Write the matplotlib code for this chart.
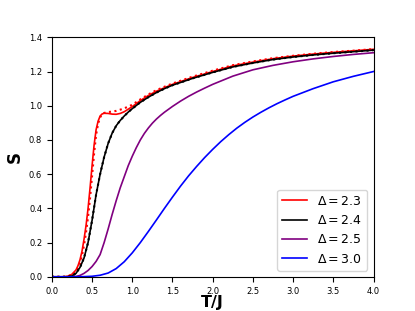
import numpy as np
import matplotlib
matplotlib.use("Agg")
from matplotlib import pyplot as plt

# entropy vs temperature
T_red = [0.0, 0.15, 0.2, 0.25, 0.3, 0.325, 0.35, 0.375, 0.4, 0.425, 0.45, 0.475, 0.5, 0.525,
         0.55, 0.575, 0.6, 0.625, 0.65, 0.7, 0.75, 0.8, 0.85, 0.9, 0.95, 1.0, 1.1, 1.2, 1.3,
         1.4, 1.5, 1.75, 2.0, 2.25, 2.5, 2.75, 3.0, 3.25, 3.5, 3.75, 4.0]
S_red = [0.0, 0.0, 0.004, 0.015, 0.04, 0.065, 0.10, 0.15, 0.22, 0.30, 0.40, 0.52, 0.65, 0.77,
         0.86, 0.91, 0.94, 0.952, 0.956, 0.955, 0.951, 0.95, 0.955, 0.965, 0.98, 0.995, 1.03,
         1.06, 1.085, 1.105, 1.125, 1.165, 1.20, 1.233, 1.255, 1.275, 1.29, 1.302, 1.312,
         1.321, 1.33]

T_red_dot = [0.0, 0.15, 0.2, 0.25, 0.3, 0.325, 0.35, 0.375, 0.4, 0.425, 0.45, 0.475, 0.5,
             0.525, 0.55, 0.575, 0.6, 0.625, 0.65, 0.7, 0.75, 0.8, 0.85, 0.9, 0.95, 1.0, 1.1,
             1.2, 1.3, 1.4, 1.5, 1.75, 2.0, 2.25, 2.5, 2.75, 3.0, 3.25, 3.5, 3.75, 4.0]
S_red_dot = [0.0, 0.0, 0.003, 0.012, 0.032, 0.052, 0.08, 0.125, 0.185, 0.26, 0.35, 0.46,
             0.59, 0.72, 0.83, 0.895, 0.932, 0.95, 0.958, 0.963, 0.966, 0.97, 0.977, 0.985,
             0.995, 1.006, 1.037, 1.066, 1.091, 1.111, 1.13, 1.17, 1.205, 1.237, 1.259,
             1.278, 1.292, 1.304, 1.314, 1.322, 1.331]

T_black = [0.0, 0.2, 0.25, 0.3, 0.35, 0.4, 0.45, 0.5, 0.55, 0.6, 0.65, 0.7, 0.75, 0.8, 0.85,
           0.9, 0.95, 1.0, 1.1, 1.2, 1.3, 1.4, 1.5, 1.75, 2.0, 2.25, 2.5, 2.75, 3.0, 3.25,
           3.5, 3.75, 4.0]
S_black = [0.0, 0.0, 0.005, 0.02, 0.055, 0.11, 0.20, 0.33, 0.48, 0.60, 0.70, 0.78, 0.84,
           0.883, 0.914, 0.94, 0.963, 0.983, 1.02, 1.05, 1.077, 1.10, 1.12, 1.16, 1.195, 1.227,
           1.25, 1.27, 1.285, 1.297, 1.307, 1.316, 1.325]

T_purple = [0.0, 0.25, 0.3, 0.35, 0.4, 0.45, 0.5, 0.55, 0.6, 0.65, 0.7, 0.75, 0.8, 0.85,
            0.9, 0.95, 1.0, 1.05, 1.1, 1.15, 1.2, 1.25, 1.3, 1.35, 1.4, 1.5, 1.6, 1.7, 1.8,
            1.9, 2.0, 2.25, 2.5, 2.75, 3.0, 3.25, 3.5, 3.75, 4.0]
S_purple = [0.0, 0.0, 0.002, 0.008, 0.02, 0.037, 0.06, 0.09, 0.13, 0.20, 0.28, 0.365, 0.445,
            0.52, 0.585, 0.65, 0.705, 0.755, 0.80, 0.838, 0.87, 0.898, 0.922, 0.943, 0.962,
            0.996, 1.027, 1.055, 1.08, 1.103, 1.125, 1.173, 1.21, 1.236, 1.257, 1.274, 1.288,
            1.30, 1.31]

T_blue = [0.0, 0.3, 0.4, 0.5, 0.6, 0.7, 0.8, 0.9, 1.0, 1.1, 1.2, 1.3, 1.4, 1.5, 1.6, 1.7,
          1.8, 1.9, 2.0, 2.1, 2.2, 2.3, 2.4, 2.5, 2.6, 2.7, 2.8, 2.9, 3.0, 3.25, 3.5, 3.75,
          4.0]
S_blue = [0.0, 0.0, 0.001, 0.003, 0.009, 0.022, 0.048, 0.088, 0.14, 0.20, 0.265, 0.332, 0.40,
          0.466, 0.53, 0.59, 0.645, 0.697, 0.745, 0.79, 0.831, 0.869, 0.903, 0.934, 0.962,
          0.988, 1.012, 1.034, 1.055, 1.10, 1.14, 1.172, 1.20]

labels = [r"$\Delta = 2.3$", r"$\Delta = 2.4$", r"$\Delta = 2.5$", r"$\Delta = 3.0$"]

fig, ax = plt.subplots(figsize=(4.15, 3.11), dpi=100)
lw = 1.2
ax.plot(T_red, S_red, color="red", lw=lw, label=labels[0])
ax.plot(T_red_dot, S_red_dot, color="red", lw=1.5, ls=":")
ax.plot(T_black, S_black, color="black", lw=lw, label=labels[1])
ax.plot(T_black, S_black, color="black", lw=1.5, ls=":")
ax.plot(T_purple, S_purple, color="purple", lw=lw, label=labels[2])
ax.plot(T_blue, S_blue, color="blue", lw=lw, label=labels[3])

ax.set_xlim(0, 4)
ax.set_ylim(0, 1.4)
ax.tick_params(labelsize=6)
ax.set_xlabel("T/J", fontsize=11.5, fontweight="bold", labelpad=-0.5)
ax.set_ylabel("S", fontsize=12, fontweight="bold")
ax.legend(loc="lower right", fontsize=9)

fig.savefig("out.png", dpi=100)
